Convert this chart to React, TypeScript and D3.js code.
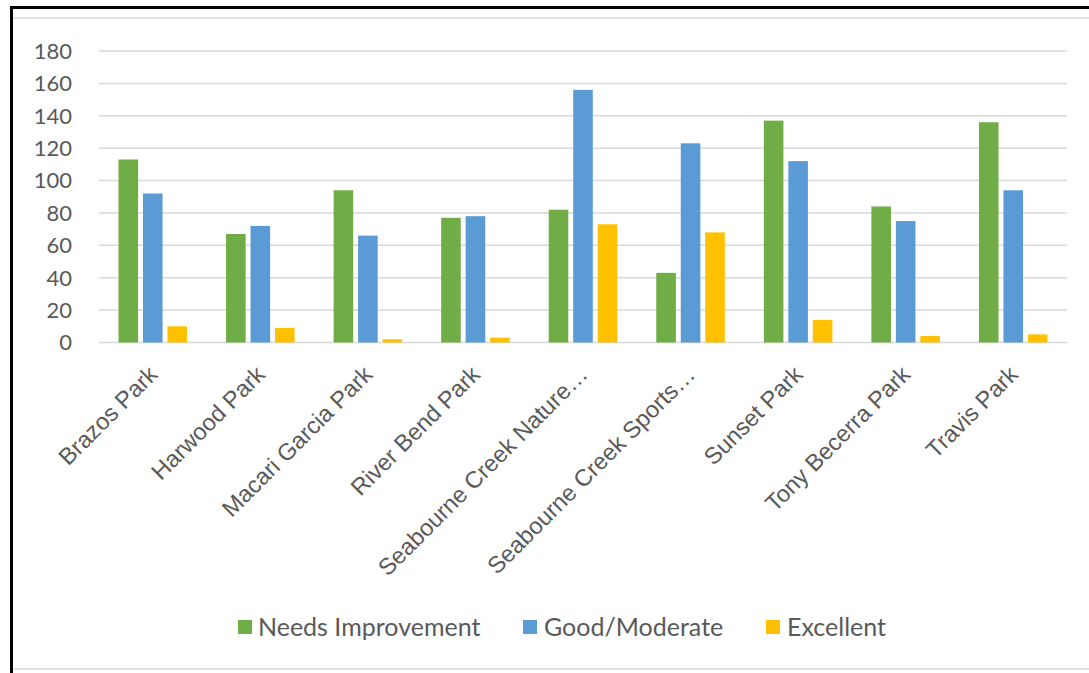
import React from "react";
import * as d3 from "d3";

const categories = [
  "Brazos Park",
  "Harwood Park",
  "Macari Garcia Park",
  "River Bend Park",
  "Seabourne Creek Nature…",
  "Seabourne Creek Sports…",
  "Sunset Park",
  "Tony Becerra Park",
  "Travis Park",
];
const seriesNames = ["Needs Improvement", "Good/Moderate", "Excellent"];
const needsImprovement = [113, 67, 94, 77, 82, 43, 137, 84, 136];
const goodModerate = [92, 72, 66, 78, 156, 123, 112, 75, 94];
const excellent = [10, 9, 2, 3, 73, 68, 14, 4, 5];
const seriesValues = [needsImprovement, goodModerate, excellent];
const colors = ["#70AD47", "#5B9BD5", "#FFC000"];
const yTicks = [0, 20, 40, 60, 80, 100, 120, 140, 160, 180];

const W = 1089;
const H = 673;

export default function App() {
  const x0 = d3.scaleBand<string>().domain(categories).range([99, 1067]).padding(0);
  const inner = 19.5;
  const x1 = d3
    .scaleBand<number>()
    .domain([0, 1, 2])
    .range([inner, x0.bandwidth() - inner])
    .paddingInner(0.2);
  const y = d3.scaleLinear().domain([0, 180]).range([342.5, 51]);

  const legendItems = [
    { x: 238, tx: 258 },
    { x: 523, tx: 544 },
    { x: 766, tx: 787 },
  ];

  return (
    <svg
      width={W}
      height={H}
      style={{ position: "absolute", left: 0, top: 0, background: "#fff" }}
    >
      <rect x={0} y={0} width={W} height={H} fill="#fff" />
      {/* inner chart frame lines */}
      <line x1={13} x2={W} y1={18} y2={18} stroke="#d9d9d9" strokeWidth={1.5} />
      <line x1={13} x2={W} y1={669} y2={669} stroke="#d9d9d9" strokeWidth={1.5} />
      {/* outer black border */}
      <line x1={10} x2={W} y1={7.5} y2={7.5} stroke="#000" strokeWidth={3} />
      <line x1={11.5} x2={11.5} y1={6} y2={H} stroke="#000" strokeWidth={3} />

      {/* gridlines */}
      {yTicks.map((t) => (
        <line
          key={t}
          x1={99}
          x2={1067}
          y1={y(t)}
          y2={y(t)}
          stroke="#d9d9d9"
          strokeWidth={1.5}
        />
      ))}
      {/* y labels */}
      {yTicks.map((t) => (
        <text
          key={"l" + t}
          x={72}
          y={y(t)}
          dy="0.36em"
          textAnchor="end"
          fontFamily="Lato, 'Open Sans', sans-serif"
          fontSize={22}
          fill="#595959"
        >
          {t}
        </text>
      ))}

      {/* bars */}
      {categories.map((c, i) => (
        <g key={c} transform={`translate(${x0(c)},0)`}>
          {seriesValues.map((vals, s) => (
            <rect
              key={s}
              x={x1(s)}
              y={y(vals[i])}
              width={x1.bandwidth()}
              height={y(0) - y(vals[i])}
              fill={colors[s]}
            />
          ))}
        </g>
      ))}

      {/* x labels */}
      {categories.map((c) => {
        const cx = (x0(c) ?? 0) + x0.bandwidth() / 2 + 6;
        const cy = 376;
        return (
          <text
            key={"x" + c}
            x={cx}
            y={cy}
            textAnchor="end"
            transform={`rotate(-45 ${cx} ${cy})`}
            fontFamily="'Liberation Sans', Arial, sans-serif"
            fontSize={23.5}
            fill="#595959"
          >
            {c}
          </text>
        );
      })}

      {/* legend */}
      {seriesNames.map((n, s) => (
        <g key={n}>
          <rect x={legendItems[s].x} y={620} width={14} height={14} fill={colors[s]} />
          <text
            x={legendItems[s].tx}
            y={627}
            dy="0.36em"
            fontFamily="Lato, 'Open Sans', sans-serif"
            fontSize={25}
            fill="#595959"
          >
            {n}
          </text>
        </g>
      ))}
    </svg>
  );
}
